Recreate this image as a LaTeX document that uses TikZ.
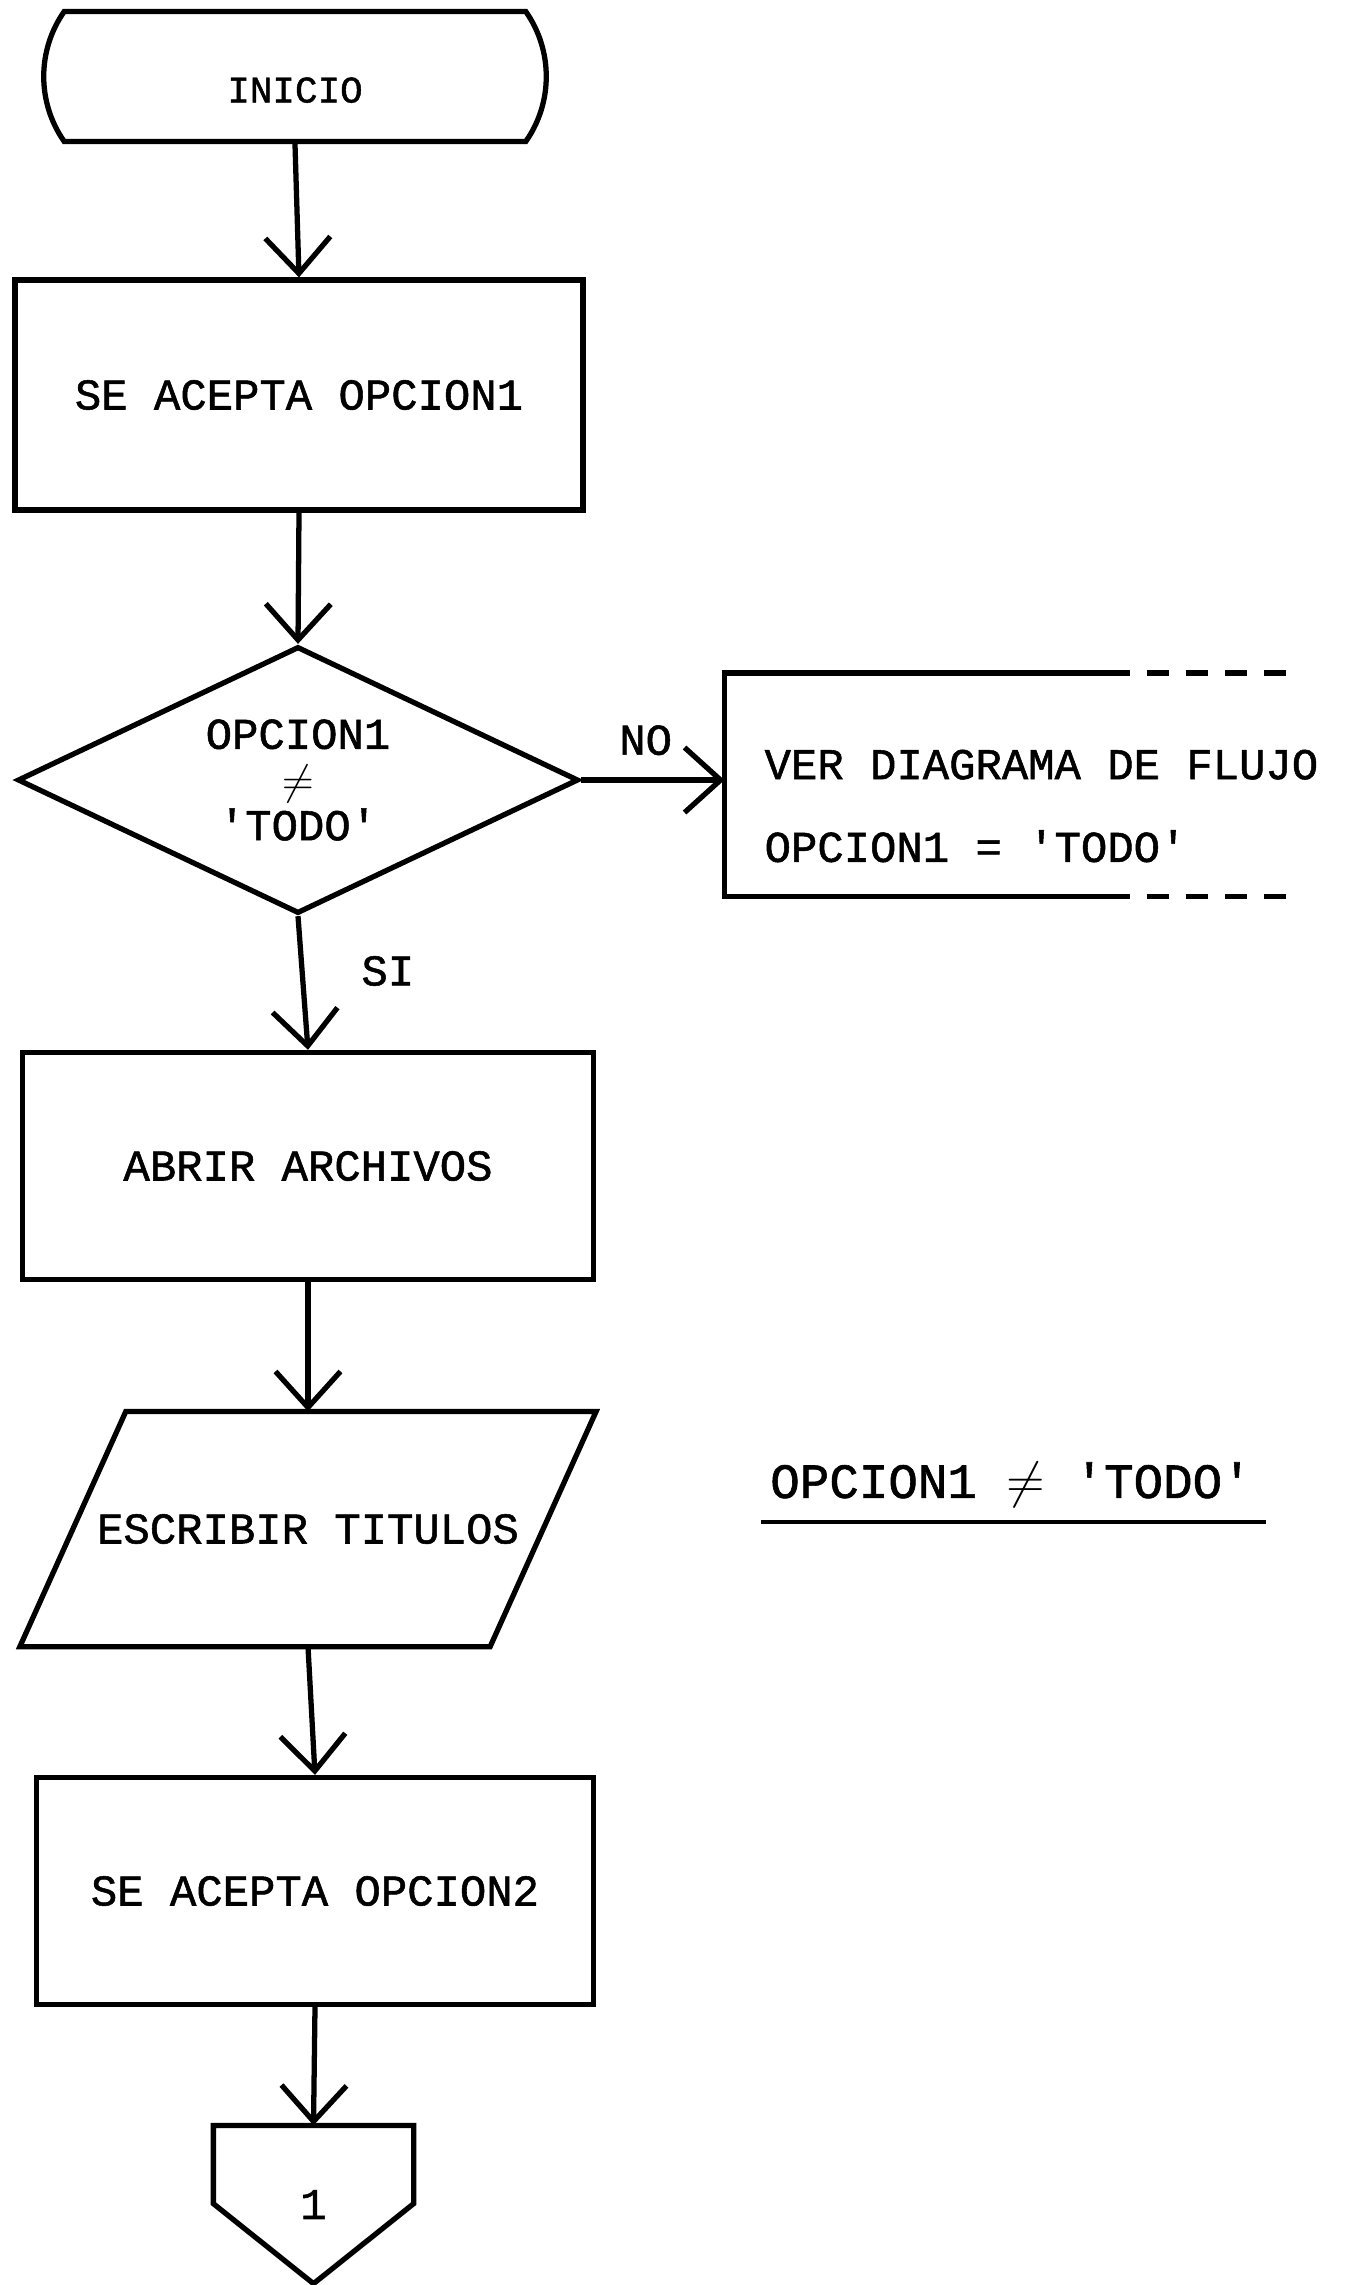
\documentclass[tikz,border=0pt]{standalone}
\usepackage{fontspec}
\setmonofont{Liberation Mono}[FakeBold=1.2]
\usetikzlibrary{arrows.meta,shapes.geometric,shapes.misc}

\begin{document}
\begin{tikzpicture}[
        line width=1.5pt,
        font=\ttfamily\fontsize{12.5}{15}\selectfont,
        proc/.style={draw, rectangle, minimum width=#1, minimum height=2.27cm, inner sep=0pt},
        flow/.style={-{Straight Barb[length=3.6mm, width=6.5mm]}},
        hidden/.style={rectangle, inner sep=0pt}
    ]
        % Page frame
        \useasboundingbox (0,0) rectangle (13.6,-22.85);

        % Start terminal
        \node[draw, rounded rectangle, rounded rectangle arc length=70,
              minimum width=5.26cm, minimum height=1.30cm, text height=0.52cm, text depth=0cm,
              font=\ttfamily\fontsize{10.7}{13}\selectfont] (inicio) at (2.95,-0.765) {INICIO};

        % Process boxes
        \node[proc=5.68cm, minimum height=2.30cm] (acepta1) at (2.99,-3.95) {SE ACEPTA OPCION1};
        \node[proc=5.71cm] (abrir) at (3.08,-11.66) {ABRIR ARCHIVOS};
        \node[proc=5.57cm] (acepta2) at (3.15,-18.91) {SE ACEPTA OPCION2};

        % Decision
        \node[draw, diamond, aspect=2.1, inner sep=0pt, minimum width=5.61cm,
              minimum height=2.67cm, align=center] (decision) at (2.98,-7.8)
              {OPCION1\\[-2pt]$\neq$\\[-2pt]'TODO'};

        % Open box on the right
        \coordinate (verin) at (7.245,-7.8);
        \draw (11.08,-6.73) -- (7.245,-6.73) -- (7.245,-8.965) -- (11.08,-8.965);
        \draw[dashed, dash pattern=on 2.2mm off 1.7mm] (11.08,-6.73) -- (13.02,-6.73);
        \draw[dashed, dash pattern=on 2.2mm off 1.7mm] (11.08,-8.965) -- (13.02,-8.965);
        \node[hidden, anchor=west, align=left] (ver) at (7.62,-8.06)
              {VER DIAGRAMA DE FLUJO\\[0.3cm]OPCION1 = 'TODO'};

        % Input/output
        \node[hidden, minimum width=4.65cm, minimum height=2.30cm] (titulos) at (3.08,-15.29) {ESCRIBIR TITULOS};
        \draw ([xshift=0.53cm]titulos.north west) -- ([xshift=0.53cm]titulos.north east)
           -- ([xshift=-0.53cm]titulos.south east) -- ([xshift=-0.53cm]titulos.south west) -- cycle;

        % Note
        \node[font=\ttfamily\fontsize{14}{16}\selectfont] (nota) at (10.11,-14.85) {OPCION1 $\neq$ 'TODO'};
        \draw[line width=1.2pt] ([xshift=0.05cm]nota.south west) -- (nota.south east);

        % Off-page connector
        \node[hidden, minimum width=1.95cm, minimum height=1.53cm] (conector) at (3.135,-22.045) {1};
        \draw (conector.north west) -- (conector.north east) -- ([yshift=0.8cm]conector.south east)
           -- (conector.south) -- ([yshift=0.8cm]conector.south west) -- cycle;

        % Flow lines
        \draw[flow] (inicio.south) -- (acepta1.north);
        \draw[flow] (acepta1.south) -- (decision.north);
        \draw[flow] (decision.east) -- (verin) node[pos=0.45, above=3pt] {NO};
        \draw[flow] (decision.south) -- (abrir.north) node[pos=0.41, right=0.45cm] {SI};
        \draw[flow] (abrir.south) -- (titulos.north);
        \draw[flow] (titulos.south) -- (acepta2.north);
        \draw[flow] (acepta2.south) -- (conector.north);

    \end{tikzpicture}
\end{document}
